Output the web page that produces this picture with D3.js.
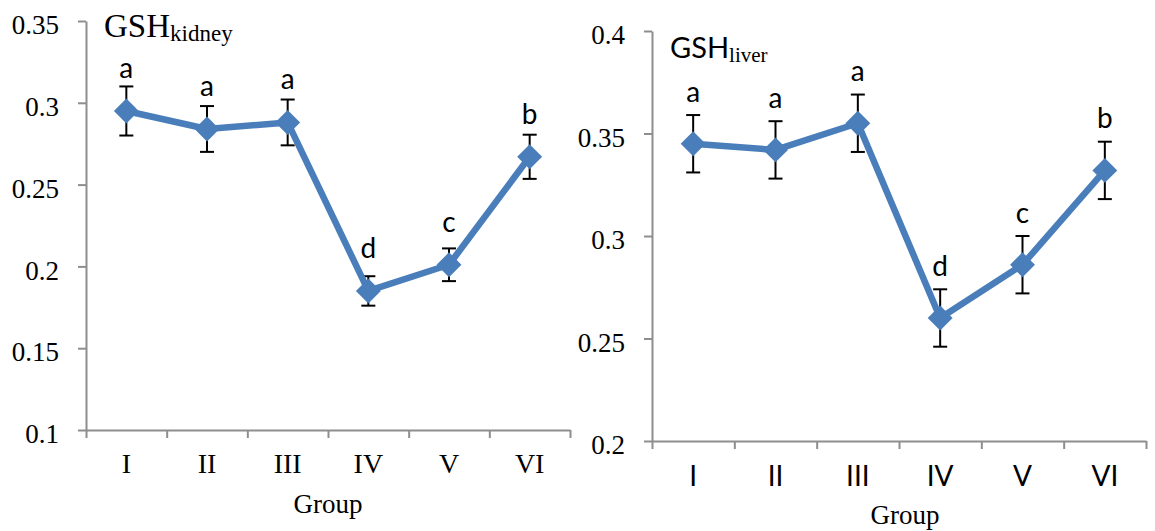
<!DOCTYPE html>
<html>
<head>
<meta charset="utf-8">
<script src="https://cdn.jsdelivr.net/npm/d3@7"></script>
<style>
  body { margin: 0; background: #fff; }
  svg { display: block; }
</style>
</head>
<body>
<div id="chart"></div>
<script>
// data
var groups = ["I", "II", "III", "IV", "V", "VI"];

var kidneyMean = [0.295, 0.284, 0.288, 0.185, 0.201, 0.267];
var kidneyErr = [0.015, 0.014, 0.014, 0.009, 0.010, 0.0135];
var kidneyLetters = ["a", "a", "a", "d", "c", "b"];
var kidneyTicks = [0.1, 0.15, 0.2, 0.25, 0.3, 0.35];

var liverMean = [0.345, 0.342, 0.355, 0.260, 0.286, 0.332];
var liverErr = [0.014, 0.014, 0.014, 0.014, 0.014, 0.014];
var liverLetters = ["a", "a", "a", "d", "c", "b"];
var liverTicks = [0.2, 0.25, 0.3, 0.35, 0.4];

var serif = "'Liberation Serif', 'Times New Roman', serif";
var sans = "Lato, 'Open Sans', sans-serif";
var blue = "#4a7ebb";
var axisGrey = "#8e8e8e";

var svg = d3.select("#chart").append("svg")
  .attr("width", 1155)
  .attr("height", 531);

function drawPanel(p) {
  var g = svg.append("g");

  var x = d3.scaleBand().domain(groups).range([p.x0, p.x1]);
  var xb = d3.scaleLinear().domain([0, groups.length]).range([p.x0, p.x1]);
  var y = d3.scaleLinear().domain(p.domain).range([p.y0, p.y1]);

  // y axis
  var ya = g.append("g")
    .attr("transform", "translate(" + p.x0 + ",0)")
    .call(d3.axisLeft(y).tickValues(p.ticks).tickSize(8).tickSizeOuter(0).tickPadding(19)
      .tickFormat(function(d) { return String(d); }));
  ya.selectAll("text")
    .attr("dy", "0.47em")
    .style("font-family", serif)
    .style("font-size", "27px")
    .style("fill", "#000");

  // x axis: boundary ticks
  var xa = g.append("g")
    .attr("transform", "translate(0," + p.y0 + ")")
    .call(d3.axisBottom(xb).tickValues(d3.range(groups.length + 1)).tickSize(8).tickSizeOuter(0)
      .tickFormat(""));

  // x labels
  var xl = g.append("g")
    .attr("transform", "translate(0," + p.y0 + ")")
    .call(d3.axisBottom(x).tickSize(0));
  xl.select(".domain").remove();
  xl.selectAll("text")
    .attr("y", p.xLabelY)
    .attr("dy", 0)
    .style("font-family", p.xFont)
    .style("font-size", p.xFontSize)
    .style("fill", "#000");

  [ya, xa].forEach(function(a) {
    a.selectAll(".domain, line").attr("stroke", axisGrey).attr("stroke-width", 2);
  });

  var pts = groups.map(function(d, i) {
    return { g: d, v: p.mean[i], e: p.err[i], l: p.letters[i] };
  });
  var cx = function(d) { return x(d.g) + x.bandwidth() / 2; };

  // error bars
  var eb = g.append("g").selectAll("g").data(pts).enter().append("g");
  eb.append("line")
    .attr("x1", cx).attr("x2", cx)
    .attr("y1", function(d) { return y(d.v + d.e); })
    .attr("y2", function(d) { return y(d.v - d.e); });
  eb.append("line")
    .attr("x1", function(d) { return cx(d) - 7; }).attr("x2", function(d) { return cx(d) + 7; })
    .attr("y1", function(d) { return y(d.v + d.e); })
    .attr("y2", function(d) { return y(d.v + d.e); });
  eb.append("line")
    .attr("x1", function(d) { return cx(d) - 7; }).attr("x2", function(d) { return cx(d) + 7; })
    .attr("y1", function(d) { return y(d.v - d.e); })
    .attr("y2", function(d) { return y(d.v - d.e); });
  eb.selectAll("line").attr("stroke", "#000").attr("stroke-width", 2);

  // line
  g.append("path")
    .datum(pts)
    .attr("fill", "none")
    .attr("stroke", blue)
    .attr("stroke-width", 6.5)
    .attr("stroke-linejoin", "round")
    .attr("d", d3.line().x(cx).y(function(d) { return y(d.v); }));

  // diamond markers
  g.append("g").selectAll("path")
    .data(pts)
    .enter()
    .append("path")
    .attr("d", d3.symbol(d3.symbolSquare, 310))
    .attr("transform", function(d) { return "translate(" + cx(d) + "," + y(d.v) + ") rotate(45)"; })
    .attr("fill", blue);

  // significance letters
  g.append("g").selectAll("text")
    .data(pts)
    .enter()
    .append("text")
    .attr("x", cx)
    .attr("y", function(d) { return y(d.v) - p.letterOffset; })
    .attr("text-anchor", "middle")
    .style("font-family", sans)
    .style("font-size", "28px")
    .text(function(d) { return d.l; });

  // title
  var t = g.append("text")
    .attr("x", p.titleX)
    .attr("y", p.titleY);
  t.append("tspan")
    .style("font-family", p.titleFont)
    .style("font-size", p.titleSize)
    .text("GSH");
  t.append("tspan")
    .attr("dy", p.subDy)
    .style("font-family", serif)
    .style("font-size", p.subSize)
    .text(p.sub);

  // axis title
  g.append("text")
    .attr("x", p.groupX)
    .attr("y", p.groupY)
    .attr("text-anchor", "middle")
    .style("font-family", serif)
    .style("font-size", "27px")
    .text("Group");
}

drawPanel({
  x0: 86, x1: 570, y0: 430, y1: 21,
  domain: [0.1, 0.35], ticks: kidneyTicks,
  mean: kidneyMean, err: kidneyErr, letters: kidneyLetters,
  xFont: serif, xFontSize: "28px", xLabelY: 43,
  letterOffset: 33,
  titleX: 104, titleY: 37, titleFont: serif, titleSize: "33px",
  sub: "kidney", subDy: 4, subSize: "23px",
  groupX: 328, groupY: 513
});

drawPanel({
  x0: 652, x1: 1146, y0: 441, y1: 31,
  domain: [0.2, 0.4], ticks: liverTicks,
  mean: liverMean, err: liverErr, letters: liverLetters,
  xFont: sans, xFontSize: "28px", xLabelY: 45,
  letterOffset: 42,
  titleX: 670, titleY: 58, titleFont: sans, titleSize: "29px",
  sub: "liver", subDy: 4, subSize: "21px",
  groupX: 905, groupY: 524
});
</script>
</body>
</html>
